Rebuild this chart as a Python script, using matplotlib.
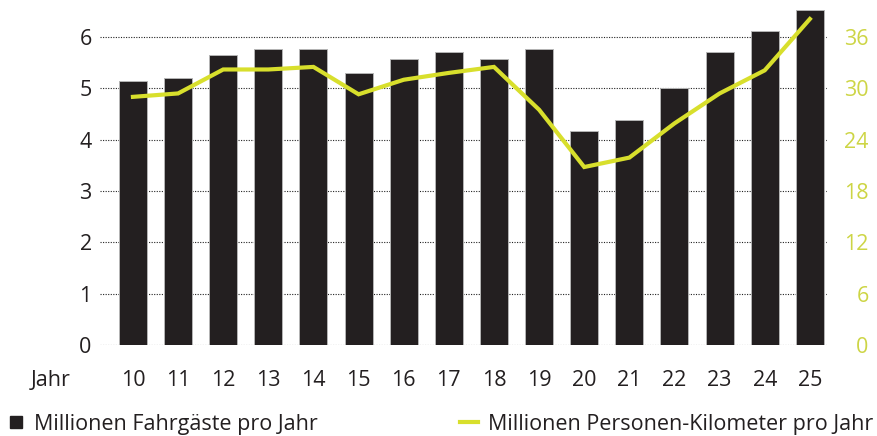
import matplotlib
matplotlib.use("Agg")
import matplotlib.pyplot as plt
from matplotlib.lines import Line2D

plt.rcParams['font.family'] = ['Open Sans', 'DejaVu Sans']

# data
jahre = ['10', '11', '12', '13', '14', '15', '16', '17',
         '18', '19', '20', '21', '22', '23', '24', '25']
fahrgaeste = [5.15, 5.21, 5.64, 5.77, 5.77, 5.29, 5.57, 5.70,
              5.57, 5.77, 4.17, 4.38, 5.00, 5.70, 6.12, 6.53]
personen_km = [29.0, 29.4, 32.2, 32.2, 32.5, 29.3, 31.0, 31.8,
               32.5, 27.5, 20.8, 21.9, 25.9, 29.4, 32.1, 38.1]
left_ticks = [0, 1, 2, 3, 4, 5, 6]
right_ticks = [0, 6, 12, 18, 24, 30, 36]

dark = '#231f20'
gelb = '#d8df2c'
gelb_text = '#cdd545'
fs = 15.5

fig = plt.figure(figsize=(8.78, 4.36), dpi=100)
ax = fig.add_axes([100/878, 1 - 345/436, 727/878, 345/436])
x = list(range(len(jahre)))

ax.bar(x, fahrgaeste, width=0.62, color=dark, edgecolor='#b5b5b5', linewidth=0.7, zorder=2)
ax.set_xlim(-0.73, 15.38)
ax.set_ylim(0, 6.72)
ax.set_yticks(left_ticks)
ax.set_xticks(x)
ax.set_xticklabels(jahre)
ax.grid(axis='y', linestyle=(0, (1, 1.3)), color='#222222', linewidth=0.8, zorder=0)
ax.set_axisbelow(True)
ax.tick_params(axis='both', length=0, labelsize=fs, labelcolor=dark)
ax.tick_params(axis='x', pad=18)
ax.tick_params(axis='y', pad=6)
for s in ax.spines.values():
    s.set_visible(False)

ax2 = ax.twinx()
ax2.plot(x, personen_km, color=gelb, linewidth=3, solid_joinstyle='miter', zorder=3)
ax2.set_ylim(0, 6.72 * 6)
ax2.set_yticks(right_ticks)
ax2.tick_params(axis='y', length=0, labelsize=fs, labelcolor=gelb_text, pad=30)
for lab in ax2.get_yticklabels():
    lab.set_horizontalalignment('right')
for s in ax2.spines.values():
    s.set_visible(False)

fig.text(31/878, 1 - 380/436, 'Jahr', fontsize=fs, color=dark, va='center', ha='left')

# legends along the bottom edge
h1 = Line2D([], [], marker='s', linestyle='none', color=dark, markersize=9)
h2 = Line2D([], [], color=gelb, linewidth=3)
fig.legend([h1], ['Millionen Fahrgäste pro Jahr'], loc='center left',
           bbox_to_anchor=(8/878, 1 - 424/436), frameon=False, fontsize=fs,
           borderpad=0, borderaxespad=0, handlelength=0.75, handletextpad=0.45,
           labelcolor=dark)
fig.legend([h2], ['Millionen Personen-Kilometer pro Jahr'], loc='center left',
           bbox_to_anchor=(460/878, 1 - 424/436), frameon=False, fontsize=fs,
           borderpad=0, borderaxespad=0, handlelength=0.85, handletextpad=0.45,
           labelcolor=dark)

fig.savefig('out.png', dpi=100)
